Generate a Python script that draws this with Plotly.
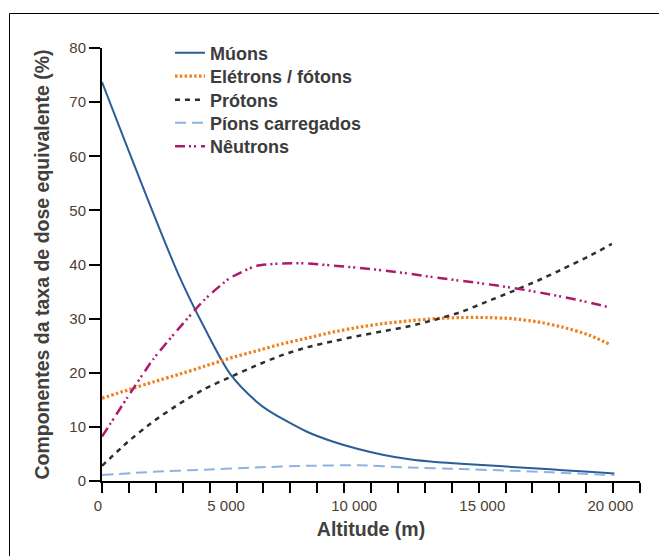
import plotly.graph_objects as go

# Altitudes (m)
alt = [0, 1000, 2000, 3000, 4000, 5000, 6000, 6500, 7000, 8000, 9000, 10000,
       11000, 12000, 13000, 14000, 15000, 16000, 17000, 18000, 19000, 20000]

muons = [73.7, 61.5, 49.5, 38.0, 28.3, 19.8, 14.8, 13.0, 11.6, 9.1, 7.3, 5.9,
         4.8, 4.0, 3.5, 3.2, 2.9, 2.6, 2.3, 2.0, 1.7, 1.4]

alt_el = [0, 1000, 2000, 3000, 4000, 5000, 6000, 7000, 8000, 9000, 10000,
          11000, 12000, 13000, 14000, 15000, 16000, 17000, 18000, 19000, 19800]
electrons = [15.3, 16.8, 18.3, 19.7, 21.2, 22.7, 24.0, 25.3, 26.4, 27.5, 28.4,
             29.1, 29.6, 30.0, 30.2, 30.2, 30.0, 29.4, 28.4, 27.0, 25.3]

alt_pr = [0, 1000, 2000, 3000, 4000, 5000, 6000, 7000, 8000, 9000, 10000,
          11000, 12000, 13000, 14000, 15000, 16000, 17000, 18000, 19000, 19900]
protons = [2.8, 7.2, 11.0, 14.2, 17.0, 19.2, 21.3, 23.2, 24.7, 25.8, 26.8,
           27.7, 28.6, 29.8, 31.2, 33.1, 35.0, 37.0, 39.2, 41.5, 43.8]

alt_pi = [0, 2000, 4000, 6000, 8000, 10000, 12000, 14000, 16000, 18000, 20000]
pions = [1.1, 1.7, 2.1, 2.5, 2.8, 2.9, 2.5, 2.2, 1.9, 1.5, 1.1]

alt_ne = [0, 1000, 2000, 3000, 4000, 5000, 6000, 7000, 8000, 9000, 10000,
          11000, 12000, 13000, 14000, 15000, 16000, 17000, 18000, 19000, 19700]
neutrons = [8.2, 15.5, 22.5, 28.2, 33.5, 37.5, 39.7, 40.2, 40.2, 39.8, 39.4,
            38.9, 38.3, 37.6, 37.0, 36.4, 35.7, 34.9, 34.0, 33.0, 32.2]

series_names = ["Múons", "Elétrons / fótons", "Prótons", "Píons carregados", "Nêutrons"]

x_tickvals = [0, 5000, 10000, 15000, 20000]
x_ticktext = ["0", "5 000", "10 000", "15 000", "20 000"]
x_minor_ticks = [i * 1050 for i in range(21)]
y_tickvals = [0, 10, 20, 30, 40, 50, 60, 70, 80]

legend_ids = ["legend", "legend2", "legend3", "legend4", "legend5"]

fig = go.Figure()
fig.add_trace(go.Scatter(x=alt, y=muons, mode="lines", name=series_names[0], legend=legend_ids[0],
                         line=dict(color="#2b5d98", width=2, shape="spline", smoothing=0.8)))
fig.add_trace(go.Scatter(x=alt_el, y=electrons, mode="lines", name=series_names[1], legend=legend_ids[1],
                         line=dict(color="#f0801c", width=3.2, dash="2.5px,2.3px", shape="spline", smoothing=0.6)))
fig.add_trace(go.Scatter(x=alt_pr, y=protons, mode="lines", name=series_names[2], legend=legend_ids[2],
                         line=dict(color="#2e2e2e", width=2.5, dash="5px,5px", shape="spline", smoothing=0.6)))
fig.add_trace(go.Scatter(x=alt_pi, y=pions, mode="lines", name=series_names[3], legend=legend_ids[3],
                         line=dict(color="#8db3e2", width=2, dash="11px,6px", shape="spline", smoothing=0.6)))
fig.add_trace(go.Scatter(x=alt_ne, y=neutrons, mode="lines", name=series_names[4], legend=legend_ids[4],
                         line=dict(color="#ae1a6a", width=2.5, dash="10px,4px,2px,3px,2px,5px", shape="spline", smoothing=0.6)))

L, R, T, B = 102, 19, 48, 75
W, H = 659, 556
pw, ph = W - L - R, H - T - B

def px_to_paper_x(px):
    return (px - L) / pw

def px_to_paper_y(py):
    return (H - B - py) / ph

# Decorative frame (top and left border of the figure)
fig.add_shape(type="line", xref="paper", yref="paper",
              x0=px_to_paper_x(9.5), x1=px_to_paper_x(680),
              y0=px_to_paper_y(13.5), y1=px_to_paper_y(13.5),
              line=dict(color="black", width=1))
fig.add_shape(type="line", xref="paper", yref="paper",
              x0=px_to_paper_x(9.5), x1=px_to_paper_x(9.5),
              y0=px_to_paper_y(13.5), y1=px_to_paper_y(580),
              line=dict(color="black", width=1))

tick_font = dict(family="Liberation Sans, Arial", size=15, color="#4d4033")
title_font = dict(family="Liberation Sans, Arial", size=19.5, color="#404040", weight="bold")
legend_font = dict(family="Liberation Sans, Arial", size=18, color="#3c3c3c", weight="bold")

legend_rows_px = [53, 76.5, 100, 123, 146.5]
legend_layout = {}
for lid, row in zip(legend_ids, legend_rows_px):
    legend_layout[lid] = dict(x=px_to_paper_x(170), y=px_to_paper_y(row),
                              xanchor="left", yanchor="middle",
                              bgcolor="rgba(255,255,255,0)", borderwidth=0,
                              font=legend_font, itemwidth=30)

fig.update_layout(
    width=W, height=H,
    margin=dict(l=L, r=R, t=T, b=B, pad=0),
    paper_bgcolor="white", plot_bgcolor="white",
    showlegend=True,
    xaxis=dict(range=[0, 21000], showgrid=False, zeroline=False,
               showline=True, linecolor="black", linewidth=2,
               tickmode="array", tickvals=x_tickvals, ticktext=x_ticktext,
               ticks="outside", ticklen=10, tickwidth=0, tickcolor="rgba(0,0,0,0)",
               ticklabelshift=-4,
               minor=dict(tickmode="array", tickvals=x_minor_ticks, ticks="outside",
                          ticklen=10, tickwidth=2, tickcolor="black", showgrid=False),
               tickfont=tick_font,
               title=dict(text="Altitude (m)", font=title_font, standoff=9)),
    yaxis=dict(range=[0, 80], showgrid=False, zeroline=False,
               showline=True, linecolor="black", linewidth=2,
               tickmode="array", tickvals=y_tickvals,
               ticks="outside", ticklen=11, tickwidth=2, tickcolor="black",
               tickfont=tick_font,
               title=dict(text="Componentes da taxa de dose equivalente (%)", font=title_font, standoff=14)),
    **legend_layout,
)

fig.write_html("out.html")
